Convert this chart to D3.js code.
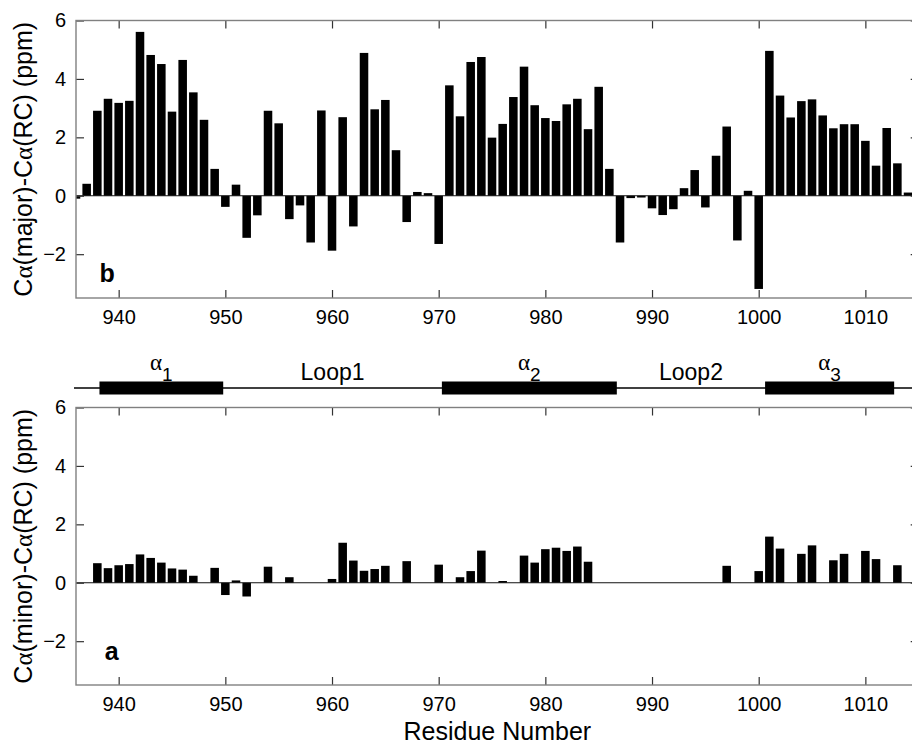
<!DOCTYPE html>
<html>
<head>
<meta charset="utf-8">
<script src="https://cdn.jsdelivr.net/npm/d3@7"></script>
<style>
  body { margin: 0; background: #fff; }
  svg { display: block; font-family: "Liberation Sans", Arial, sans-serif; }
</style>
</head>
<body>
<div id="chart"></div>
<script>
const majorResidues = d3.range(936, 1015);
const majorShift = [
  -0.10, 0.41, 2.91, 3.32, 3.18, 3.25, 5.61, 4.82, 4.51, 2.88,
  4.65, 3.54, 2.60, 0.92, -0.38, 0.38, -1.44, -0.67, 2.91, 2.48,
  -0.80, -0.33, -1.60, 2.92, -1.88, 2.69, -1.05, 4.89, 2.96, 3.28,
  1.56, -0.90, 0.13, 0.09, -1.65, 3.78, 2.72, 4.58, 4.75, 1.99,
  2.46, 3.38, 4.42, 3.10, 2.66, 2.56, 3.13, 3.32, 2.28, 3.73,
  0.92, -1.60, -0.08, -0.06, -0.43, -0.66, -0.46, 0.26, 0.88, -0.40,
  1.37, 2.37, -1.53, 0.17, -3.19, 4.96, 3.43, 2.68, 3.24, 3.30,
  2.75, 2.31, 2.45, 2.45, 1.88, 1.03, 2.32, 1.11, 0.11
];

const minorResidues = [
  938, 939, 940, 941, 942, 943, 944, 945, 946, 947,
  949, 950, 951, 952, 954, 956, 960, 961, 962, 963,
  964, 965, 967, 970, 972, 973, 974, 976, 978, 979,
  980, 981, 982, 983, 984, 997, 1000, 1001, 1002, 1004,
  1005, 1007, 1008, 1010, 1011, 1013
];
const minorShift = [
  0.67, 0.50, 0.60, 0.64, 0.97, 0.85, 0.69, 0.49, 0.45, 0.24,
  0.51, -0.42, 0.08, -0.47, 0.55, 0.19, 0.13, 1.37, 0.76, 0.41,
  0.47, 0.58, 0.74, 0.62, 0.19, 0.40, 1.10, 0.06, 0.93, 0.69,
  1.15, 1.20, 1.09, 1.24, 0.72, 0.58, 0.40, 1.58, 1.17, 0.99,
  1.28, 0.77, 0.99, 1.09, 0.81, 0.60
];

const xTicks = [940, 950, 960, 970, 980, 990, 1000, 1010];
const yTicks = [-2, 0, 2, 4, 6];

const segments = [
  {type: "helix", name: "α", sub: "1", start: 938.2, end: 949.8},
  {type: "loop", name: "Loop1", start: 949.8, end: 970.3},
  {type: "helix", name: "α", sub: "2", start: 970.3, end: 986.7},
  {type: "loop", name: "Loop2", start: 986.7, end: 1000.6},
  {type: "helix", name: "α", sub: "3", start: 1000.6, end: 1012.7}
];

const width = 912, height = 748;
const left = 76, right = 918.7;
const barWidth = 0.8;

const svg = d3.select("#chart")
  .append("svg")
  .attr("width", width)
  .attr("height", height);

const x = d3.scaleLinear().domain([936, 1015]).range([left, right]);

const panels = [
  {id: "b", top: 20.5, bottom: 298, residues: majorResidues, values: majorShift,
   title: ["C", "α", "(major)-C", "α", "(RC) (ppm)"], tag: "b", tagPos: [938.2, -2.94]},
  {id: "a", top: 407.5, bottom: 685, residues: minorResidues, values: minorShift,
   title: ["C", "α", "(minor)-C", "α", "(RC) (ppm)"], tag: "a", tagPos: [938.7, -2.64]}
];

panels.forEach(p => {
  let y = d3.scaleLinear().domain([-3.5, 6]).range([p.bottom, p.top]);
  let g = svg.append("g").attr("class", "panel-" + p.id);

  g.append("clipPath")
    .attr("id", "clip-" + p.id)
    .append("rect")
    .attr("x", left)
    .attr("y", p.top)
    .attr("width", right - left)
    .attr("height", p.bottom - p.top);

  let data = p.residues.map((r, i) => ({r: r, v: p.values[i]}));

  g.append("g")
    .attr("clip-path", "url(#clip-" + p.id + ")")
    .selectAll("rect.bar")
    .data(data)
    .enter().append("rect")
    .attr("class", "bar")
    .attr("x", d => x(d.r - barWidth / 2))
    .attr("width", x(barWidth) - x(0))
    .attr("y", d => y(Math.max(0, d.v)))
    .attr("height", d => Math.abs(y(d.v) - y(0)))
    .style("fill", "#000");

  g.append("line")
    .attr("x1", left)
    .attr("x2", right)
    .attr("y1", y(0))
    .attr("y2", y(0))
    .style("stroke", "#111")
    .style("stroke-width", 1.2);

  let xBottom = d3.axisBottom(x).tickValues(xTicks).tickFormat(d3.format("d"))
    .tickSizeInner(-8).tickSizeOuter(0).tickPadding(12);
  let xTop = d3.axisTop(x).tickValues(xTicks).tickSizeInner(-8).tickSizeOuter(0).tickFormat("");
  let yLeft = d3.axisLeft(y).tickValues(yTicks).tickSizeInner(-8).tickSizeOuter(0).tickPadding(10);
  let yRight = d3.axisRight(y).tickValues(yTicks).tickSizeInner(-8).tickSizeOuter(0).tickFormat("");

  g.append("g").attr("transform", "translate(0," + p.bottom + ")").call(xBottom);
  g.append("g").attr("transform", "translate(0," + p.top + ")").call(xTop);
  g.append("g").attr("transform", "translate(" + left + ",0)").call(yLeft);
  g.append("g").attr("transform", "translate(" + right + ",0)").call(yRight);

  g.selectAll(".domain").remove();
  g.selectAll(".tick line").style("stroke", "#333").style("stroke-width", 1.2);
  g.selectAll(".tick text")
    .style("font-size", "20px")
    .style("font-family", "'Liberation Sans', Arial, sans-serif")
    .style("fill", "#000");

  g.append("rect")
    .attr("x", left)
    .attr("y", p.top)
    .attr("width", right - left)
    .attr("height", p.bottom - p.top)
    .style("fill", "none")
    .style("stroke", "#808080")
    .style("stroke-width", 1.4);

  let title = g.append("text")
    .attr("transform", "translate(32," + ((p.top + p.bottom) / 2) + ") rotate(-90)")
    .attr("text-anchor", "middle")
    .style("font-size", "25px");
  p.title.forEach(s => {
    title.append("tspan")
      .style("font-family", s === "α" ? "'Liberation Serif', serif" : null)
      .text(s);
  });

  g.append("text")
    .attr("x", x(p.tagPos[0]))
    .attr("y", y(p.tagPos[1]))
    .style("font-size", "25px")
    .style("font-weight", "bold")
    .text(p.tag);
});

// secondary structure strip
const stripY = 388;
const strip = svg.append("g").attr("class", "structure");

strip.append("line")
  .attr("x1", x(936) - 2)
  .attr("x2", right)
  .attr("y1", stripY)
  .attr("y2", stripY)
  .style("stroke", "#000")
  .style("stroke-width", 1.5);

strip.selectAll("rect.helix")
  .data(segments.filter(d => d.type === "helix"))
  .enter().append("rect")
  .attr("class", "helix")
  .attr("x", d => x(d.start))
  .attr("width", d => x(d.end) - x(d.start))
  .attr("y", stripY - 6.5)
  .attr("height", 13)
  .style("fill", "#000");

strip.selectAll("text.helix-label")
  .data(segments.filter(d => d.type === "helix"))
  .enter().append("text")
  .attr("class", "helix-label")
  .attr("x", d => x((d.start + d.end) / 2))
  .attr("y", 370)
  .attr("text-anchor", "middle")
  .each(function(d) {
    let t = d3.select(this);
    t.append("tspan").style("font-size", "23px").style("font-family", "'Liberation Serif', serif").text(d.name);
    t.append("tspan").attr("dy", 11).style("font-size", "19px").text(d.sub);
  });

strip.selectAll("text.loop-label")
  .data(segments.filter(d => d.type === "loop"))
  .enter().append("text")
  .attr("class", "loop-label")
  .attr("x", d => x((d.start + d.end) / 2))
  .attr("y", 380)
  .attr("text-anchor", "middle")
  .style("font-size", "23px")
  .text(d => d.name);

svg.append("text")
  .attr("x", (left + right) / 2)
  .attr("y", 740)
  .attr("text-anchor", "middle")
  .style("font-size", "25px")
  .text("Residue Number");
</script>
</body>
</html>
